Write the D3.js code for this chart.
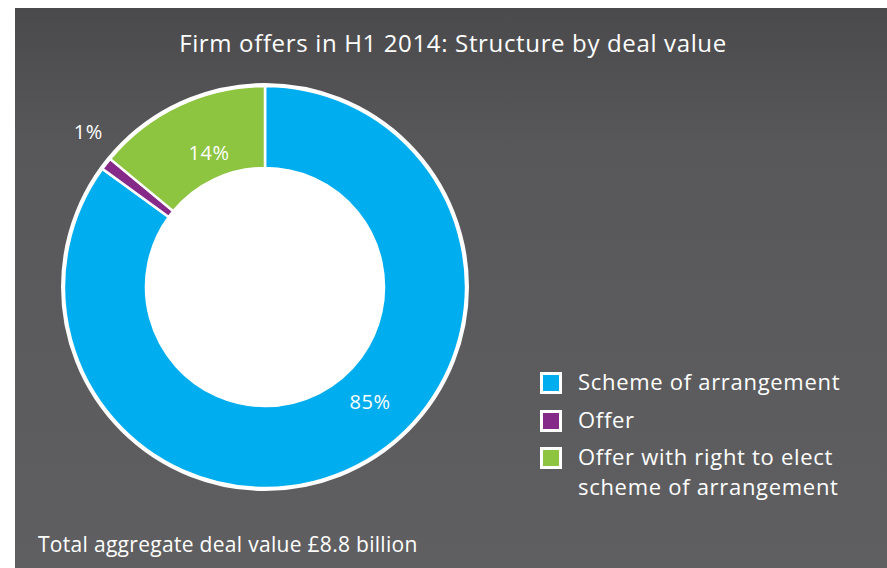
<!DOCTYPE html>
<html>
<head>
	<meta charset="utf-8">
	<title>Firm offers in H1 2014</title>
	<script src="https://cdn.jsdelivr.net/npm/d3@7"></script>
	<style>
		body { margin: 0; background: #fff; font-family: "Open Sans", Lato, sans-serif; }
	</style>
</head>
<body>
	<div id="chart"></div>
	<script>

		// data
		const categories = ["Scheme of arrangement", "Offer", "Offer with right to elect scheme of arrangement"];
		const values     = [85, 1, 14];
		const labels     = ["85%", "1%", "14%"];
		const colors     = ["#00adee", "#862a8a", "#8dc440"];
		const legendLines = [["Scheme of arrangement"], ["Offer"], ["Offer with right to elect", "scheme of arrangement"]];

		const title  = "Firm offers in H1 2014: Structure by deal value";
		const footer = "Total aggregate deal value £8.8 billion";

		const width = 887, height = 568;
		const cx = 265, cy = 287, outer = 201, inner = 119;

		const svg = d3.select("#chart").append("svg")
			.attr("width", width)
			.attr("height", height);

		// panel background
		const defs = svg.append("defs");
		const grad = defs.append("linearGradient").attr("id", "bg")
			.attr("x1", 0).attr("y1", 0).attr("x2", 0).attr("y2", 1);
		grad.append("stop").attr("offset", "0%").attr("stop-color", "#4a4a4c");
		grad.append("stop").attr("offset", "25%").attr("stop-color", "#58585a");
		grad.append("stop").attr("offset", "100%").attr("stop-color", "#5f5f61");

		svg.append("rect")
			.attr("x", 15).attr("y", 8)
			.attr("width", width - 15).attr("height", height - 8)
			.attr("fill", "url(#bg)");

		svg.append("text")
			.attr("x", 453).attr("y", 52)
			.attr("text-anchor", "middle")
			.attr("fill", "#fff")
			.attr("font-size", 24)
			.attr("letter-spacing", 0.65)
			.text(title);

		// donut
		const pie = d3.pie().sort(null).value(d => d)(values);
		const arc = d3.arc().innerRadius(inner).outerRadius(outer);

		const g = svg.append("g").attr("transform", `translate(${cx},${cy})`);

		g.append("circle")
			.attr("r", outer + 1.5)
			.attr("fill", "none")
			.attr("stroke", "#fff")
			.attr("stroke-width", 3);

		g.selectAll("path")
			.data(pie)
			.join("path")
			.attr("d", arc)
			.attr("fill", (d, i) => colors[i])
			.attr("stroke", "#fff")
			.attr("stroke-width", 2.5);

		g.append("circle").attr("r", inner).attr("fill", "#fff");

		// label placement: [position along the slice's angle, radius]
		const labelPos = [[0.45, 156], [1.45, 235], [0.55, 145]];
		g.selectAll("text.lbl")
			.data(pie)
			.join("text")
			.attr("class", "lbl")
			.attr("transform", (d, i) => {
				const [f, r] = labelPos[i];
				const a = d.startAngle + f * (d.endAngle - d.startAngle);
				return `translate(${r * Math.sin(a)},${-r * Math.cos(a)})`;
			})
			.attr("text-anchor", "middle")
			.attr("dy", "0.35em")
			.attr("fill", "#fff")
			.attr("font-size", 20)
			.attr("letter-spacing", 0.6)
			.text((d, i) => labels[i]);

		// legend
		const legend = svg.append("g").attr("transform", "translate(540,372)");
		const rows = [0, 38, 75];
		const item = legend.selectAll("g")
			.data(categories)
			.join("g")
			.attr("transform", (d, i) => `translate(0,${rows[i]})`);

		item.append("rect")
			.attr("x", 1.5).attr("y", 1.5)
			.attr("width", 19).attr("height", 19)
			.attr("fill", (d, i) => colors[i])
			.attr("stroke", "#fff")
			.attr("stroke-width", 3);

		item.append("text")
			.attr("x", 38).attr("y", 18)
			.attr("fill", "#fff")
			.attr("font-size", 22)
			.attr("letter-spacing", 0.7)
			.selectAll("tspan")
			.data((d, i) => legendLines[i])
			.join("tspan")
			.attr("x", 38)
			.attr("dy", (d, j) => j ? 30 : 0)
			.text(d => d);

		svg.append("text")
			.attr("x", 38).attr("y", 552)
			.attr("fill", "#fff")
			.attr("font-size", 21)
			.attr("letter-spacing", 0.3)
			.text(footer);

	</script>
</body>
</html>
